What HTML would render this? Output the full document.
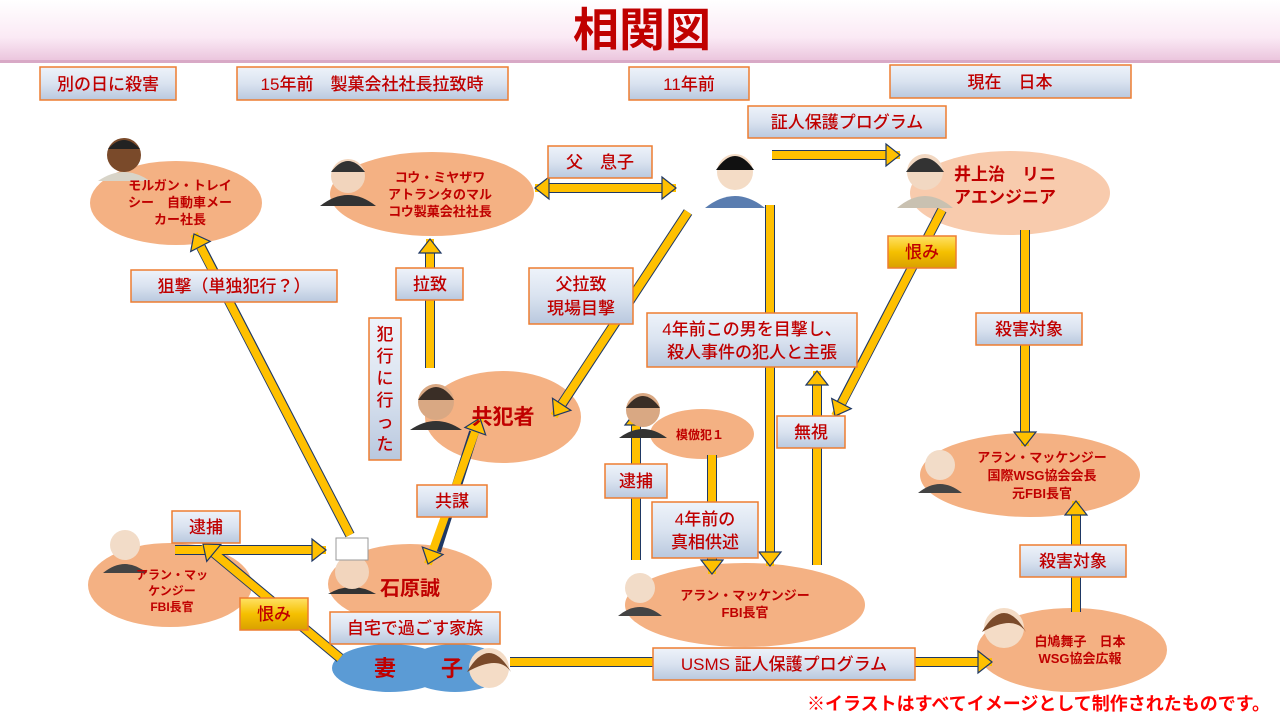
<!DOCTYPE html>
<html><head><meta charset="utf-8"><style>
html,body{margin:0;padding:0;background:#fff}
svg{display:block}
text{font-family:"Liberation Sans","Noto Sans CJK JP",sans-serif}
</style></head><body>
<svg width="1280" height="720" viewBox="0 0 1280 720" xmlns="http://www.w3.org/2000/svg">
<defs>
<linearGradient id="tb" x1="0" y1="0" x2="0" y2="1"><stop offset="0" stop-color="#fff"/><stop offset="0.6" stop-color="#fbeaf5"/><stop offset="1" stop-color="#eac3dc"/></linearGradient>
<linearGradient id="lb" x1="0" y1="0" x2="0" y2="1"><stop offset="0" stop-color="#eef3fa"/><stop offset="0.5" stop-color="#dae3f0"/><stop offset="1" stop-color="#b9c8de"/></linearGradient>
<linearGradient id="gb" x1="0" y1="0" x2="0" y2="1"><stop offset="0" stop-color="#ffe266"/><stop offset="0.5" stop-color="#f5c000"/><stop offset="1" stop-color="#d9a000"/></linearGradient>
<marker id="h" markerUnits="userSpaceOnUse" markerWidth="30" markerHeight="30" refX="15" refY="12" orient="auto-start-reverse" viewBox="0 0 30 24">
<polygon points="1,1 15,12 1,23" fill="#FFC000" stroke="#1F3864" stroke-width="1.2"/>
</marker>
</defs>
<rect x="0" y="0" width="1280" height="62" fill="url(#tb)"/>
<rect x="0" y="60" width="1280" height="3" fill="#d8a9c6"/>
<text x="642" y="46" font-size="46" font-weight="bold" fill="#C00000" text-anchor="middle">相関図</text>

<g fill="#F4B183">
<ellipse cx="176" cy="203" rx="86" ry="42"/>
<ellipse cx="432" cy="194" rx="102" ry="42"/>
<ellipse cx="1010" cy="193" rx="100" ry="42" fill="#F8CBAD"/>
<ellipse cx="503" cy="417" rx="78" ry="46"/>
<ellipse cx="702" cy="434" rx="52" ry="25"/>
<ellipse cx="1030" cy="475" rx="110" ry="42"/>
<ellipse cx="410" cy="584" rx="82" ry="40"/>
<ellipse cx="170" cy="585" rx="82" ry="42"/>
<ellipse cx="745" cy="605" rx="120" ry="42"/>
<ellipse cx="1072" cy="650" rx="95" ry="42"/>
</g>
<ellipse cx="390" cy="668" rx="58" ry="24" fill="#5B9BD5"/>
<ellipse cx="455" cy="668" rx="50" ry="24" fill="#5B9BD5"/>

<g fill="none" stroke-linecap="butt">
<g stroke="#1F3864" stroke-width="10">
<line x1="540" y1="188" x2="665" y2="188"/>
<line x1="772" y1="155" x2="888" y2="155"/>
<line x1="770" y1="205" x2="770" y2="552"/>
<line x1="688" y1="212" x2="562" y2="404"/>
<line x1="942" y1="210" x2="841" y2="404"/>
<line x1="1025" y1="230" x2="1025" y2="432"/>
<line x1="817" y1="565" x2="817" y2="385"/>
<line x1="636" y1="560" x2="636" y2="425"/>
<line x1="712" y1="455" x2="712" y2="560"/>
<line x1="1076" y1="612" x2="1076" y2="515"/>
<line x1="510" y1="662" x2="978" y2="662"/>
<line x1="350" y1="535" x2="201" y2="247"/>
<line x1="430" y1="368" x2="430" y2="253"/>
<line x1="436" y1="551" x2="474" y2="432"/>
<line x1="175" y1="550" x2="312" y2="550"/>
<line x1="340" y1="658" x2="214" y2="553"/>
</g>
<g stroke="#FFC000" stroke-width="8">
<line x1="535" y1="188" x2="676" y2="188" marker-start="url(#h)" marker-end="url(#h)"/>
<line x1="772" y1="155" x2="900" y2="155" marker-end="url(#h)"/>
<line x1="770" y1="205" x2="770" y2="566" marker-end="url(#h)"/>
<line x1="688" y1="212" x2="554" y2="416" marker-end="url(#h)"/>
<line x1="942" y1="210" x2="835" y2="416" marker-end="url(#h)"/>
<line x1="1025" y1="230" x2="1025" y2="446" marker-end="url(#h)"/>
<line x1="817" y1="565" x2="817" y2="371" marker-end="url(#h)"/>
<line x1="636" y1="560" x2="636" y2="411" marker-end="url(#h)"/>
<line x1="712" y1="455" x2="712" y2="574" marker-end="url(#h)"/>
<line x1="1076" y1="612" x2="1076" y2="501" marker-end="url(#h)"/>
<line x1="510" y1="662" x2="992" y2="662" marker-end="url(#h)"/>
<line x1="350" y1="535" x2="194" y2="234" marker-end="url(#h)"/>
<line x1="430" y1="368" x2="430" y2="239" marker-end="url(#h)"/>
<line x1="428" y1="564" x2="480" y2="418" marker-start="url(#h)" marker-end="url(#h)"/>
<line x1="175" y1="550" x2="326" y2="550" marker-end="url(#h)"/>
<line x1="340" y1="658" x2="203" y2="544" marker-end="url(#h)"/>
</g>
</g>

<g>
<g transform="translate(124,155)"><path d="M-26,26 Q0,8 26,26 Z" fill="#d8d4c8"/><circle r="17" fill="#7a4a2a"/><path d="M-16,-6 Q0,-24 16,-6 Z" fill="#222"/></g>
<g transform="translate(348,176)"><path d="M-28,30 Q0,8 28,30 Z" fill="#333"/><circle r="17" fill="#f2d5bd"/><path d="M-17,-4 Q0,-26 17,-4 Z" fill="#333"/></g>
<g transform="translate(735,172)"><path d="M-30,36 Q0,12 30,36 Z" fill="#5a7db0"/><circle r="18" fill="#f4dcc6"/><path d="M-19,-2 Q0,-30 19,-2 Z" fill="#111"/></g>
<g transform="translate(925,172)"><path d="M-28,36 Q0,12 28,36 Z" fill="#c9c1b1"/><circle r="18" fill="#f2d8c2"/><path d="M-19,0 Q0,-28 19,0 Z" fill="#333"/></g>
<g transform="translate(436,402)"><path d="M-26,28 Q0,10 26,28 Z" fill="#333"/><circle r="18" fill="#d9a883"/><path d="M-18,-2 Q0,-28 18,-2 Z" fill="#3a2e26"/></g>
<g transform="translate(643,410)"><path d="M-24,28 Q0,10 24,28 Z" fill="#333"/><circle r="17" fill="#d9a883"/><path d="M-17,-2 Q0,-26 17,-2 Z" fill="#3a2e26"/></g>
<g transform="translate(940,465)"><path d="M-22,28 Q0,10 22,28 Z" fill="#444"/><circle r="15" fill="#f2dcc8"/></g>
<g transform="translate(125,545)"><path d="M-22,28 Q0,10 22,28 Z" fill="#444"/><circle r="15" fill="#f2dcc8"/></g>
<g transform="translate(640,588)"><path d="M-22,28 Q0,10 22,28 Z" fill="#444"/><circle r="15" fill="#f2dcc8"/></g>
<g transform="translate(352,572)"><path d="M-24,22 Q0,8 24,22 Z" fill="#333"/><circle r="17" fill="#f2d5bd"/><rect x="-16" y="-34" width="32" height="22" fill="#fff" stroke="#999"/></g>
<g transform="translate(489,668)"><circle r="20" fill="#f4dcc6"/><path d="M-22,4 Q0,-34 22,4 Q10,-14 -22,4Z" fill="#7a4a2a"/></g>
<g transform="translate(1004,628)"><circle r="20" fill="#f4dcc6"/><path d="M-22,4 Q0,-34 22,4 Q10,-14 -22,4Z" fill="#7a4a2a"/></g>
</g>

<g fill="#C00000" font-weight="bold" text-anchor="middle">
<text font-size="13" x="180" y="190">モルガン・トレイ</text>
<text font-size="13" x="180" y="207">シー　自動車メー</text>
<text font-size="13" x="180" y="224">カー社長</text>
<text font-size="13" x="440" y="182">コウ・ミヤザワ</text>
<text font-size="13" x="440" y="199">アトランタのマル</text>
<text font-size="13" x="440" y="216">コウ製菓会社社長</text>
<text font-size="17" x="1005" y="180">井上治　リニ</text>
<text font-size="17" x="1005" y="203">アエンジニア</text>
<text font-size="21" x="503" y="424">共犯者</text>
<text font-size="12" x="700" y="439">模倣犯１</text>
<text font-size="13" x="1042" y="462">アラン・マッケンジー</text>
<text font-size="13" x="1042" y="480">国際WSG協会会長</text>
<text font-size="13" x="1042" y="498">元FBI長官</text>
<text font-size="20" x="410" y="595">石原誠</text>
<text font-size="12" x="172" y="579">アラン・マッ</text>
<text font-size="12" x="172" y="595">ケンジー</text>
<text font-size="12" x="172" y="611">FBI長官</text>
<text font-size="13" x="745" y="600">アラン・マッケンジー</text>
<text font-size="13" x="745" y="617">FBI長官</text>
<text font-size="13" x="1080" y="646">白鳩舞子　日本</text>
<text font-size="13" x="1080" y="663">WSG協会広報</text>
<text font-size="22" x="385" y="676">妻</text>
<text font-size="22" x="452" y="676">子</text>
</g>

<g stroke="#ED7D31" stroke-width="1.5" fill="url(#lb)">
<rect x="40" y="67" width="136" height="33"/>
<rect x="237" y="67" width="271" height="33"/>
<rect x="629" y="67" width="120" height="33"/>
<rect x="890" y="65" width="241" height="33"/>
<rect x="748" y="106" width="198" height="32"/>
<rect x="548" y="146" width="104" height="32"/>
<rect x="131" y="270" width="206" height="32"/>
<rect x="396" y="268" width="67" height="32"/>
<rect x="529" y="268" width="104" height="56"/>
<rect x="647" y="313" width="210" height="54"/>
<rect x="976" y="313" width="106" height="32"/>
<rect x="369" y="318" width="32" height="142"/>
<rect x="777" y="416" width="68" height="32"/>
<rect x="605" y="464" width="62" height="34"/>
<rect x="652" y="502" width="106" height="56"/>
<rect x="417" y="485" width="70" height="32"/>
<rect x="172" y="511" width="68" height="32"/>
<rect x="330" y="612" width="170" height="32"/>
<rect x="653" y="648" width="262" height="32"/>
<rect x="1020" y="545" width="106" height="32"/>
<rect x="888" y="236" width="68" height="32" fill="url(#gb)"/>
<rect x="240" y="598" width="68" height="32" fill="url(#gb)"/>
</g>
<g fill="#C00000" font-size="17" text-anchor="middle" font-weight="500">
<text x="108" y="90">別の日に殺害</text>
<text x="372" y="90">15年前　製菓会社社長拉致時</text>
<text x="689" y="90">11年前</text>
<text x="1010" y="88">現在　日本</text>
<text x="847" y="128">証人保護プログラム</text>
<text x="600" y="168">父　息子</text>
<text x="234" y="292">狙撃（単独犯行？）</text>
<text x="430" y="290">拉致</text>
<text x="581" y="290">父拉致</text>
<text x="581" y="314">現場目撃</text>
<text x="752" y="335">4年前この男を目撃し、</text>
<text x="752" y="358">殺人事件の犯人と主張</text>
<text x="1029" y="335">殺害対象</text>
<text x="811" y="438">無視</text>
<text x="636" y="487">逮捕</text>
<text x="705" y="525">4年前の</text>
<text x="705" y="548">真相供述</text>
<text x="452" y="507">共謀</text>
<text x="206" y="533">逮捕</text>
<text x="415" y="634">自宅で過ごす家族</text>
<text x="784" y="670">USMS 証人保護プログラム</text>
<text x="1073" y="567">殺害対象</text>
<text x="922" y="258">恨み</text>
<text x="274" y="620">恨み</text>
<text x="385" y="340">犯</text>
<text x="385" y="362">行</text>
<text x="385" y="384">に</text>
<text x="385" y="406">行</text>
<text x="385" y="428">っ</text>
<text x="385" y="450">た</text>
</g>
<text x="1270" y="710" font-size="18" font-weight="bold" fill="#FF0000" text-anchor="end">※イラストはすべてイメージとして制作されたものです。</text>
</svg>
</body></html>
